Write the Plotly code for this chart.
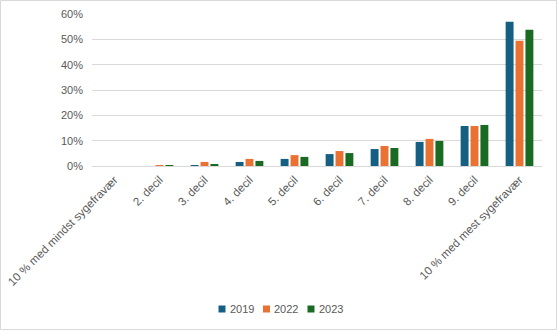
import plotly.graph_objects as go

categories = ["10 % med mindst sygefravær", "2. decil", "3. decil", "4. decil", "5. decil",
              "6. decil", "7. decil", "8. decil", "9. decil", "10 % med mest sygefravær"]
v2019 = [0.0, 0.0, 0.002, 0.016, 0.028, 0.047, 0.067, 0.095, 0.158, 0.569]
v2022 = [0.0, 0.003, 0.016, 0.028, 0.043, 0.059, 0.079, 0.107, 0.158, 0.494]
v2023 = [0.0, 0.003, 0.008, 0.020, 0.036, 0.051, 0.071, 0.099, 0.162, 0.538]
series_names = ["2019", "2022", "2023"]
colors = ["#156082", "#E97132", "#196B24"]

fig = go.Figure()
for name, vals, c in zip(series_names, [v2019, v2022, v2023], colors):
    fig.add_trace(go.Bar(x=categories, y=vals, name=name, marker_color=c,
                         marker_line_width=0, showlegend=False))

L, R, T, B = 92, 15, 14, 164
W, H = 557, 330
pw, ph = W - L - R, H - T - B


def px_x(x):
    return (x - L) / pw


def px_y(y):
    return (T + ph - y) / ph


shapes = [dict(type="rect", xref="paper", yref="paper",
               x0=px_x(0.5), x1=px_x(W - 0.5), y0=px_y(H - 0.5), y1=px_y(0.5),
               line=dict(color="#D9D9D9", width=1), fillcolor="rgba(0,0,0,0)", layer="below")]
annotations = []
# legend (bottom centre)
leg_x = [218.5, 263, 307.5]
for lx, name, c in zip(leg_x, series_names, colors):
    shapes.append(dict(type="rect", xref="paper", yref="paper",
                       x0=px_x(lx), x1=px_x(lx + 7), y0=px_y(312.5), y1=px_y(305.5),
                       line=dict(width=0), fillcolor=c))
    annotations.append(dict(xref="paper", yref="paper", x=px_x(lx + 9), y=px_y(309),
                            xanchor="left", yanchor="middle", text=name, showarrow=False,
                            font=dict(size=11, color="#595959")))

fig.update_layout(
    width=W, height=H,
    margin=dict(l=L, r=R, t=T, b=B, autoexpand=False),
    paper_bgcolor="white", plot_bgcolor="white",
    font=dict(family="Liberation Sans, Arial, sans-serif", size=11, color="#595959"),
    barmode="group", bargap=0.34, bargroupgap=0.2,
    showlegend=False,
    xaxis=dict(tickangle=-45, showgrid=False, ticks="", showline=False,
               ticklabelstandoff=4,
               tickfont=dict(size=11.5, color="#595959")),
    yaxis=dict(range=[0, 0.6], dtick=0.1, tickformat=".0%", showgrid=True,
               gridcolor="#D9D9D9", gridwidth=1, zeroline=True, zerolinecolor="#D9D9D9",
               zerolinewidth=1, ticks="", showline=False, ticklabelstandoff=8,
               tickfont=dict(size=11, color="#595959")),
    shapes=shapes,
    annotations=annotations,
)

fig.write_html("out.html")
